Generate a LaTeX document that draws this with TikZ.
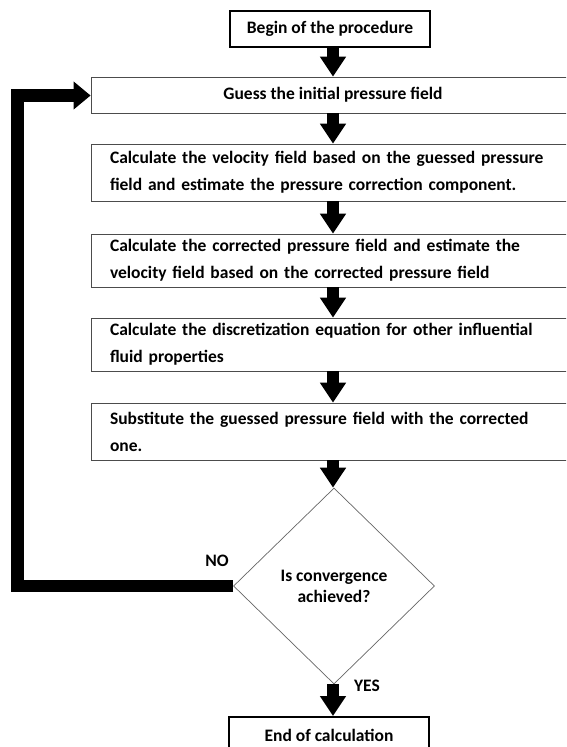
\documentclass[tikz,border=0pt]{standalone}
\usepackage{fontspec}
\setmainfont{Carlito}
\usetikzlibrary{arrows.meta,shapes.geometric}
\begin{document}
\begin{tikzpicture}[x=1pt,y=-1pt,
  every node/.style={font=\bfseries\fontsize{17.5}{27}\selectfont},
  procbox/.style={draw=black!70, line width=0.8pt, rectangle, minimum width=484pt, inner xsep=19pt, inner ysep=0pt},
  termbox/.style={draw=black, line width=2pt, rectangle, minimum width=200pt, minimum height=36pt, inner sep=0pt},
  blockarrow/.style={line width=12pt, -{Triangle[width=25pt,length=20pt]}},
  looparrow/.style={line width=12.5pt, line join=miter, -{Triangle[width=27pt,length=17pt]}},
  lbl/.style={inner sep=0pt}]
\clip (0,0) rectangle (566,747);
\fill[white] (0,0) rectangle (566,747);
\node[termbox] (begin) at (330,29) {Begin of the procedure};
\node[procbox, minimum height=36pt, align=center] (guess) at (333,95) {Guess the initial pressure field};
\node[procbox, minimum height=57pt, text width=446pt, align=left] (vel) at (333,172.5) {Calculate the velocity field based on the guessed pressure\\field and estimate the pressure correction component.};
\node[procbox, minimum height=53pt, text width=446pt, align=left] (corr) at (333,260.5) {Calculate the corrected pressure field and estimate the\\velocity field based on the corrected pressure field};
\node[procbox, minimum height=53pt, text width=446pt, align=left] (disc) at (333,344.5) {Calculate the discretization equation for other influential\\fluid properties};
\node[procbox, minimum height=57pt, text width=446pt, align=left] (sub) at (333,431.5) {Substitute the guessed pressure field with the corrected\\one.};
\node[diamond, draw=black!60, line width=0.7pt, minimum width=201pt, minimum height=196pt, inner sep=0pt, align=center, font=\bfseries\fontsize{17.5}{21}\selectfont] (conv) at (334,586) {Is convergence\\achieved?};
\node[termbox] (end) at (329,735) {End of calculation};
\node[lbl] (no) at (217,561) {NO};
\node[lbl] (yes) at (367,686) {YES};
\coordinate (lc1) at (17.5,587);
\coordinate (lc2) at (17.5,95.5);
\draw[blockarrow] (guess.north |- begin.south) -- (guess.north);
\draw[blockarrow] (guess.south) -- (vel.north);
\draw[blockarrow] (vel.south) -- (corr.north);
\draw[blockarrow] (corr.south) -- (disc.north);
\draw[blockarrow] (disc.south) -- (sub.north);
\draw[blockarrow] (sub.south) -- (sub.south |- conv.north);
\draw[blockarrow] (conv.south -| sub.south) -- (sub.south |- end.north);
\draw[looparrow] (conv.west) -- (conv.west -| lc1) -- (lc2) -- (guess.west |- lc2);
\end{tikzpicture}
\end{document}
